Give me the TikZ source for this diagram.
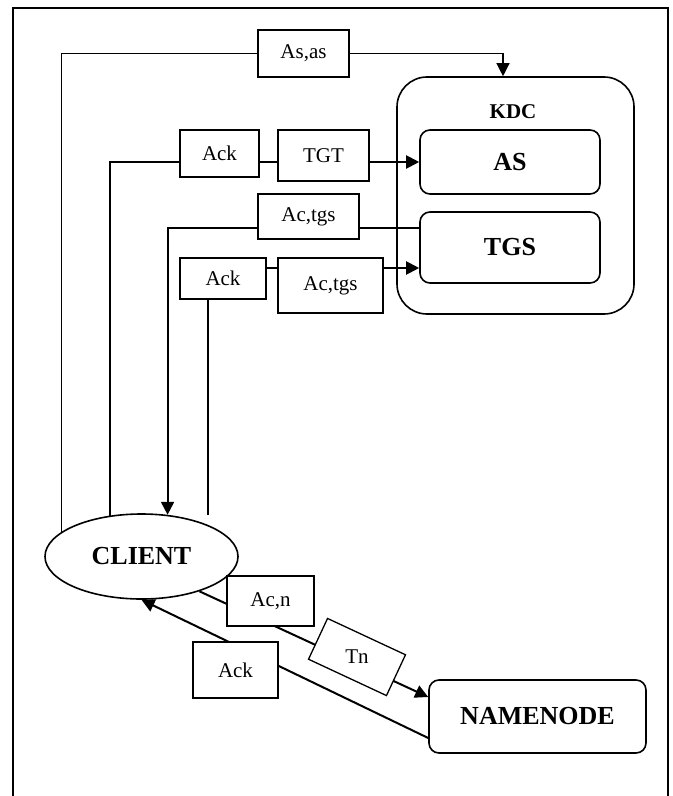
\documentclass[tikz,border=0pt]{standalone}
\usepackage{fontspec}
\setmainfont{Liberation Serif}
\usetikzlibrary{arrows.meta,calc,shapes.geometric}

\begin{document}
\begin{tikzpicture}[x=0.5pt,y=-0.5pt]
\tikzstyle{every node}+=[inner sep=0pt]
\tikzstyle{msg}=[draw,line width=0.65pt,fill=white,font=\fontsize{10.5}{12}\selectfont]
\tikzstyle{srv}=[draw,line width=0.8pt,rounded corners=5pt,font=\fontsize{13}{15}\selectfont\bfseries]
\tikzstyle{thin}=[line width=0.65pt]
\tikzstyle{wire}=[line width=1pt]
\tikzstyle{tip}=[-{Triangle[length=6.5pt,width=6.5pt]}]
\useasboundingbox (0,0) rectangle (673,796);
\clip (0,0) rectangle (673,796);
\draw [thin] (13,8) rectangle (668,830);
\node [draw,line width=0.8pt,rounded corners=15pt,minimum width=118.5pt,minimum height=118.5pt] (kdc) at (515.5,195.5) {};
\node [font=\fontsize{10.5}{12}\selectfont\bfseries] (kdcname) at (513,112) {KDC};
\node [srv,minimum width=90pt,minimum height=32pt] (as) at (510,162) {AS};
\node [srv,minimum width=90pt,minimum height=35.5pt] (tgs) at (510,247.5) {TGS};
\node [draw,ellipse,line width=0.8pt,minimum width=96.5pt,minimum height=42.5pt,font=\fontsize{13}{15}\selectfont\bfseries] (client) at (141.5,556.5) {CLIENT};
\node [srv,minimum width=108.5pt,minimum height=36.5pt] (namenode) at (537.5,716.5) {NAMENODE};
\node [msg,minimum width=45.5pt,minimum height=23.5pt] (asas) at (303.5,53.5) {As,as};
\node [msg,minimum width=39.5pt,minimum height=23.5pt] (ack1) at (219.5,153.5) {Ack};
\node [msg,minimum width=45.5pt,minimum height=25.5pt] (tgt) at (323.5,155.5) {TGT};
\node [msg,minimum width=50.5pt,minimum height=22.5pt] (actgs1) at (308.5,216.5) {Ac,tgs};
\node [msg,minimum width=43pt,minimum height=20.5pt] (ack2) at (223,278.5) {Ack};
\node [msg,minimum width=52.5pt,minimum height=27.5pt] (actgs2) at (330.5,285.5) {Ac,tgs};
\coordinate (asin) at ($(kdc.north)+(-12.5,0)$);
\coordinate (tgsup) at ($(tgs.west)+(0,-19.5)$);
\coordinate (tgsdown) at ($(tgs.west)+(0,20.5)$);
\coordinate (ackend) at (208,515);
\coordinate (nnin) at ($(namenode.west)+(0,-19.5)$);
\coordinate (nnout) at ($(namenode.west)+(0,21.5)$);
\draw [thin] (client.163) |- (asas.west);
\draw [thin,tip] (asas.east) -| (asin);
\draw [wire] (client.128) |- (ack1.west |- as.west);
\draw [wire] (ack1.east |- as.west) -- (tgt.west |- as.west);
\draw [wire,tip] (tgt.east |- as.west) -- (as.west);
\draw [wire] (tgsup) -- (tgsup -| actgs1.east);
\draw [wire,tip] (tgsup -| actgs1.west) -| (client.58);
\draw [thin] (ackend) -- (ackend |- ack2.south);
\draw [wire] (ack2.east |- tgsdown) -- (actgs2.west |- tgsdown);
\draw [wire,tip] (actgs2.east |- tgsdown) -- (tgsdown);
\draw [wire,tip] (client.-31) -- (nnin);
\draw [wire,tip] (nnout) -- (client.south);
\node [msg,minimum width=43.5pt,minimum height=25pt] (acn) at (270.5,601) {Ac,n};
\node [msg,rotate=-25,minimum width=43pt,minimum height=22.5pt] (tn) at (357,657) {\rotatebox{25}{Tn}};
\node [msg,minimum width=42.5pt,minimum height=28pt] (ack3) at (235.5,670) {Ack};
\end{tikzpicture}
\end{document}
